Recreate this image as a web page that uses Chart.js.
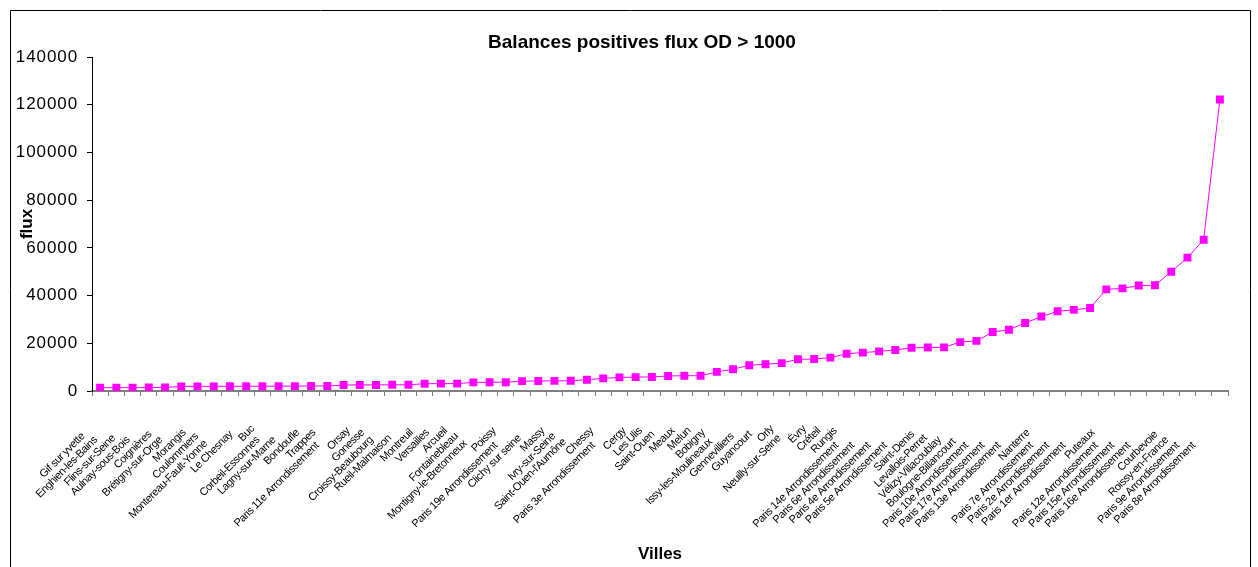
<!DOCTYPE html>
<html><head><meta charset="utf-8">
<script src="https://cdn.jsdelivr.net/npm/chart.js@4.4.0/dist/chart.umd.min.js"></script>
<style>html,body{margin:0;padding:0;background:#fff;}#wrap{width:1258px;height:567px;}</style>
</head><body><div id="wrap"><canvas id="c" width="1258" height="567"></canvas></div>
<script>
const chartTitle = 'Balances positives flux OD > 1000';
const xTitle = 'Villes';
const yTitle = 'flux';
const villes = [
  'Gif sur yvette','Enghien-les-Bains','Flins-sur-Seine','Aulnay-sous-Bois','Coignières',
  'Brétigny-sur-Orge','Morangis','Coulommiers','Montereau-Fault-Yonne','Le Chesnay',
  'Buc','Corbeil-Essonnes','Lagny-sur-Marne','Bondoufle','Trappes',
  'Paris 11e Arrondissement','Orsay','Gonesse','Croissy-Beaubourg','Rueil-Malmaison',
  'Montreuil','Versailles','Arcueil','Fontainebleau','Montigny-le-Bretonneux',
  'Poissy','Paris 19e Arrondissement','Clichy sur seine','Massy','Ivry-sur-Seine',
  "Saint-Ouen-l'Aumône",'Chessy','Paris 3e Arrondissement','Cergy','Les Ulis',
  'Saint-Ouen','Meaux','Melun','Bobigny','Issy-les-Moulineaux',
  'Gennevilliers','Guyancourt','Orly','Neuilly-sur-Seine','Évry',
  'Créteil','Rungis','Paris 14e Arrondissement','Paris 6e Arrondissement','Paris 4e Arrondissement',
  'Paris 5e Arrondissement','Saint-Denis','Levallois-Perret','Vélizy-Villacoublay','Boulogne-Billancourt',
  'Paris 10e Arrondissement','Paris 17e Arrondissement','Paris 13e Arrondissement','Nanterre','Paris 7e Arrondissement',
  'Paris 2e Arrondissement','Paris 1er Arrondissement','Puteaux','Paris 12e Arrondissement','Paris 15e Arrondissement',
  'Paris 16e Arrondissement','Courbevoie','Roissy-en-France','Paris 9e Arrondissement','Paris 8e Arrondissement'
];
const flux = [
  1350,1400,1400,1450,1500,
  1900,1950,1950,2000,2000,
  2000,2050,2050,2100,2100,
  2500,2550,2550,2600,2600,
  3050,3100,3100,3600,3650,
  3700,4150,4200,4250,4300,
  4750,5300,5700,5800,5900,
  6300,6400,6400,8000,9100,
  10800,11200,11700,13300,13400,
  14000,15600,16100,16600,17200,
  18100,18200,18300,20500,21000,
  24700,25700,28500,31200,33400,
  34000,34800,42600,43000,44200,
  44300,50000,55900,63400,122200
];
const yTicks = [0,20000,40000,60000,80000,100000,120000,140000];

const baseFamily = '"Liberation Sans", Arial, sans-serif';
const lsSupported = ('letterSpacing' in CanvasRenderingContext2D.prototype);
const xFontSize = lsSupported ? 11 : 10;
const xSpacing = lsSupported ? '-0.45px' : '0px';
const ySpacing = lsSupported ? '0.9px' : '0px';

// trailing padding so longer labels sit lower-left, as in the original layout
const mctx = document.createElement('canvas').getContext('2d');
mctx.font = xFontSize + 'px ' + baseFamily;
if (lsSupported) mctx.letterSpacing = xSpacing;
const spaceAdv = Math.max(1, mctx.measureText('a a').width - mctx.measureText('aa').width);
const padCount = villes.map(v => Math.round(0.2546 * mctx.measureText(v).width / spaceAdv));

function patchLabels(s, spacing){
  if (s._lsPatched) return;
  const orig = s.drawLabels;
  s.drawLabels = function(ca){
    const ctx = this.ctx;
    ctx.save();
    if (lsSupported) ctx.letterSpacing = spacing;
    orig.call(this, ca);
    ctx.restore();
  };
  s._lsPatched = true;
}

const deco = {
  id:'deco',
  beforeDraw(chart){
    const ctx = chart.ctx;
    ctx.save(); ctx.fillStyle='#fff'; ctx.fillRect(0,0,chart.width,chart.height); ctx.restore();
  },
  afterDraw(chart){
    const ctx = chart.ctx;
    ctx.save();
    if (lsSupported) ctx.letterSpacing = '0px';
    ctx.strokeStyle='#000'; ctx.lineWidth=1;
    ctx.beginPath();
    ctx.moveTo(10.5, chart.height); ctx.lineTo(10.5, 10.5); ctx.lineTo(1250.5, 10.5); ctx.lineTo(1250.5, chart.height);
    ctx.stroke();
    ctx.fillStyle='#000';
    ctx.font = 'bold 19px ' + baseFamily;
    ctx.textAlign='center'; ctx.textBaseline='middle';
    ctx.fillText(chartTitle, 642, 43);
    ctx.restore();
  }
};

new Chart(document.getElementById('c'), {
  type:'line',
  data:{
    labels: villes,
    datasets:[{
      label: yTitle,
      data: flux,
      borderColor:'#FF00FF',
      backgroundColor:'#FF00FF',
      borderWidth:1,
      pointStyle:'rect',
      pointRadius:5.6,
      pointBorderWidth:0,
      pointBackgroundColor:'#FF00FF',
      tension:0,
      fill:false
    }]
  },
  options:{
    responsive:false,
    animation:false,
    devicePixelRatio:1,
    layout:{padding:{left:13,right:30,top:57,bottom:0}},
    plugins:{legend:{display:false}, tooltip:{enabled:false}, title:{display:false}},
    scales:{
      x:{
        type:'category',
        offset:true,
        grid:{offset:true, drawOnChartArea:false, drawTicks:true, tickLength:5, color:'#808080'},
        border:{color:'#808080', width:2},
        ticks:{
          autoSkip:false, minRotation:45, maxRotation:45, padding:23, labelOffset:-6,
          color:'#000', font:{family:baseFamily, size:xFontSize},
          callback:(v, i) => villes[i] + ' '.repeat(padCount[i])
        },
        title:{display:true, text:xTitle, color:'#000', font:{family:baseFamily, size:17, weight:'bold'}, padding:{top:0,bottom:2}},
        afterFit(s){ s.height = 176; patchLabels(s, xSpacing); }
      },
      y:{
        min:0, max:140000,
        afterBuildTicks(s){ s.ticks = yTicks.map(v=>({value:v})); },
        grid:{drawOnChartArea:false, drawTicks:true, tickLength:5, color:'#000'},
        border:{color:'#000', width:1},
        ticks:{padding:9, color:'#000', font:{family:baseFamily, size:17}, callback:(v)=>String(v)},
        title:{display:true, text:yTitle, color:'#000', font:{family:baseFamily, size:17, weight:'bold'}, padding:{top:4,bottom:0}},
        afterFit(s){ s.width = 79; patchLabels(s, ySpacing); }
      }
    }
  },
  plugins:[deco]
});
</script>
</body></html>
